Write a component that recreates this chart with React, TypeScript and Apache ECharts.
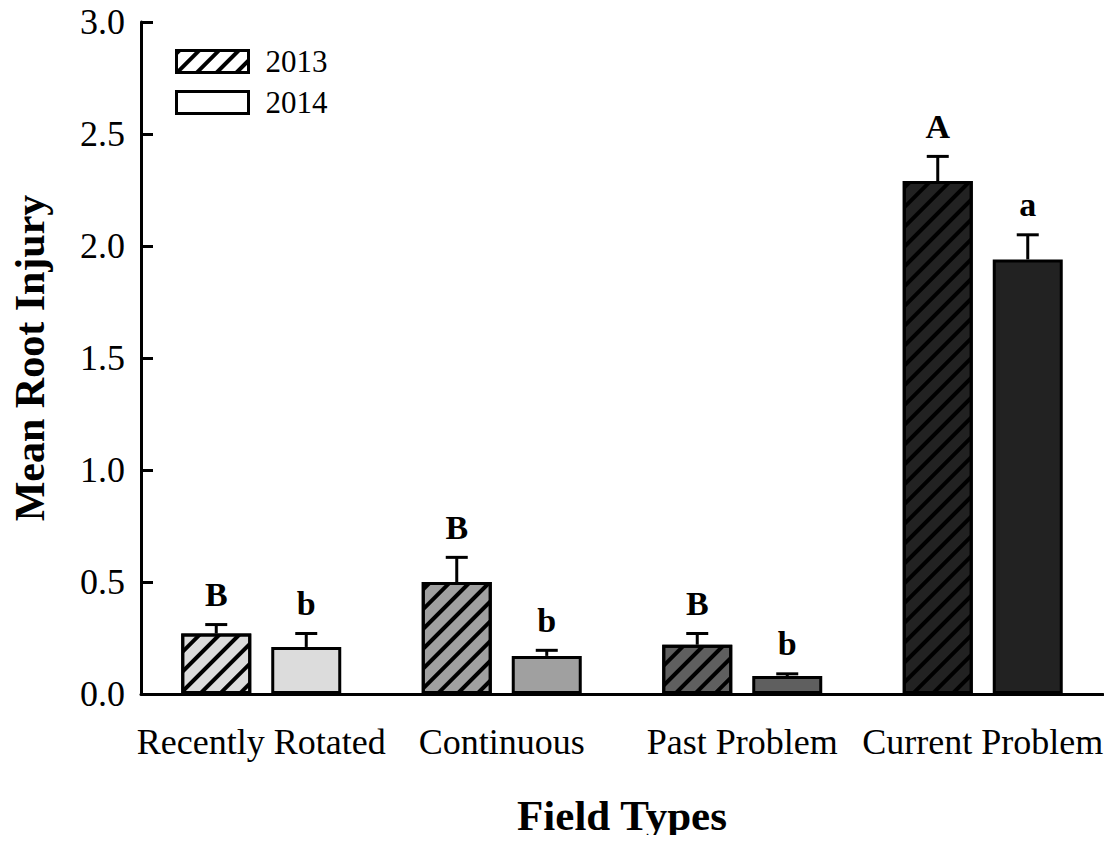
import React, { useEffect, useRef } from 'react';
import * as echarts from 'echarts';

const categories = ['Recently Rotated', 'Continuous', 'Past Problem', 'Current Problem'];
const years = ['2013', '2014'];
const mean2013 = [0.27, 0.5, 0.22, 2.29];
const err2013 = [0.04, 0.11, 0.05, 0.11];
const letters2013 = ['B', 'B', 'B', 'A'];
const mean2014 = [0.21, 0.17, 0.08, 1.94];
const err2014 = [0.06, 0.025, 0.01, 0.11];
const letters2014 = ['b', 'b', 'b', 'a'];
const fillColors = ['#dcdcdc', '#a0a0a0', '#5f5f5f', '#222222'];

const FONT = '"Liberation Serif", "Times New Roman", serif';

function errorSeries(means: number[], errs: number[], letters: string[], offset: number) {
  return {
    type: 'custom',
    z: 5,
    silent: true,
    data: means.map((m, i) => [i, m, errs[i]]),
    encode: { x: 0, y: 1 },
    renderItem: (params: any, api: any) => {
      const idx = api.value(0);
      const v = api.value(1);
      const e = api.value(2);
      const base = api.coord([idx, v]);
      const top = api.coord([idx, v + e]);
      const x = base[0] + offset;
      return {
        type: 'group',
        children: [
          { type: 'line', shape: { x1: x, y1: base[1], x2: x, y2: top[1] }, style: { stroke: '#000', lineWidth: 3 } },
          { type: 'line', shape: { x1: x - 11, y1: top[1], x2: x + 11, y2: top[1] }, style: { stroke: '#000', lineWidth: 3 } },
          {
            type: 'text',
            style: {
              text: letters[idx],
              x,
              y: top[1] - 13,
              align: 'center',
              verticalAlign: 'bottom',
              fontSize: 34,
              fontWeight: 'bold',
              fontFamily: FONT,
              fill: '#000',
            },
          },
        ],
      };
    },
  };
}

export default function App() {
  const ref = useRef<HTMLDivElement>(null);
  useEffect(() => {
    if (!ref.current) return;
    const chart = echarts.init(ref.current, null, { renderer: 'svg' });
    const decal = {
      symbol: 'rect',
      symbolSize: 1,
      color: '#000',
      dashArrayX: [1, 0],
      dashArrayY: [3.5, 9.5],
      rotation: -Math.PI / 4,
    };
    const barBase = {
      type: 'bar',
      barWidth: 70,
      barGap: '28.57%',
      itemStyle: { borderColor: '#000', borderWidth: 3 },
    };
    chart.setOption({
      animation: false,
      backgroundColor: '#fff',
      textStyle: { fontFamily: FONT },
      grid: { left: 141, right: 9, top: 22, bottom: 149, containLabel: false },
      legend: {
        data: years,
        orient: 'vertical',
        left: 175,
        top: 46,
        padding: 0,
        itemWidth: 72,
        itemHeight: 22,
        itemGap: 10,
        icon: 'rect',
        itemStyle: { color: '#fff', borderColor: '#000', borderWidth: 3 },
        textStyle: { fontSize: 31, fontFamily: FONT, color: '#000', padding: [0, 0, 0, 12] },
      },
      xAxis: {
        type: 'category',
        data: categories,
        name: 'Field Types',
        nameLocation: 'middle',
        nameGap: 100,
        nameTextStyle: { fontSize: 43, fontWeight: 'bold', fontFamily: FONT, color: '#000' },
        axisLine: { lineStyle: { color: '#000', width: 3 } },
        axisTick: { alignWithLabel: true, length: 10, lineStyle: { color: '#000', width: 3 } },
        axisLabel: { fontSize: 36, fontFamily: FONT, color: '#000', margin: 30, interval: 0 },
      },
      yAxis: {
        type: 'value',
        min: 0,
        max: 3,
        interval: 0.5,
        name: 'Mean Root Injury',
        nameLocation: 'middle',
        nameGap: 90,
        nameTextStyle: { fontSize: 42, fontWeight: 'bold', fontFamily: FONT, color: '#000' },
        splitLine: { show: false },
        axisLine: { show: true, lineStyle: { color: '#000', width: 3 } },
        axisTick: { show: true, inside: true, length: 12, lineStyle: { color: '#000', width: 3 } },
        axisLabel: { fontSize: 36, fontFamily: FONT, color: '#000', margin: 16, formatter: (v: number) => v.toFixed(1) },
      },
      series: [
        {
          ...barBase,
          name: years[0],
          itemStyle: { ...barBase.itemStyle, color: '#fff', decal },
          data: mean2013.map((v, i) => ({ value: v, itemStyle: { color: fillColors[i] } })),
        },
        {
          ...barBase,
          name: years[1],
          itemStyle: { ...barBase.itemStyle, color: '#fff' },
          data: mean2014.map((v, i) => ({ value: v, itemStyle: { color: fillColors[i] } })),
        },
        errorSeries(mean2013, err2013, letters2013, -45),
        errorSeries(mean2014, err2014, letters2014, 45),
      ],
    });
    return () => chart.dispose();
  }, []);
  return <div ref={ref} style={{ width: 1112, height: 843, margin: -8 }} />;
}
